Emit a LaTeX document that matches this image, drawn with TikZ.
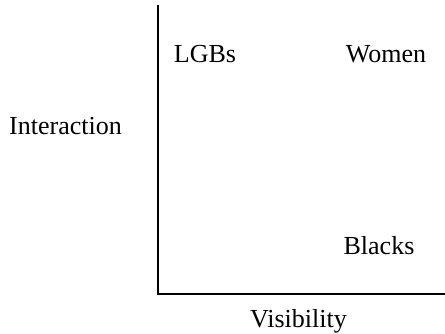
\documentclass[tikz,border=0pt]{standalone}
\usepackage{fontspec}
\setmainfont{Liberation Serif}
\tikzset{
	lbl/.style={inner sep=0pt, anchor=base, font=\fontsize{13}{15}\selectfont},
	axis/.style={line width=1pt, color=black}
}

\begin{document}
\begin{tikzpicture}[x=0.5pt, y=-0.5pt]
			%%%%% START %%%%%
			
			\useasboundingbox (0, 0) rectangle (445, 333);
			
			\coordinate (ytop) at (158, 5);
			\coordinate (origin) at (158, 294);
			\coordinate (xend) at (445, 294);
			\draw[axis] (ytop) -- (origin) -- (xend);
			
			\node[lbl] (lgbs) at (205, 62.5) {LGBs};
			\node[lbl] (women) at (386, 62.5) {Women};
			\node[lbl] (blacks) at (379, 254) {Blacks};
			
			\node[lbl] (interaction) at (65.5, 134) {Interaction};
			\node[lbl] (visibility) at (298.5, 327) {Visibility};
			
			%%%%% END %%%%%
		\end{tikzpicture}
\end{document}
